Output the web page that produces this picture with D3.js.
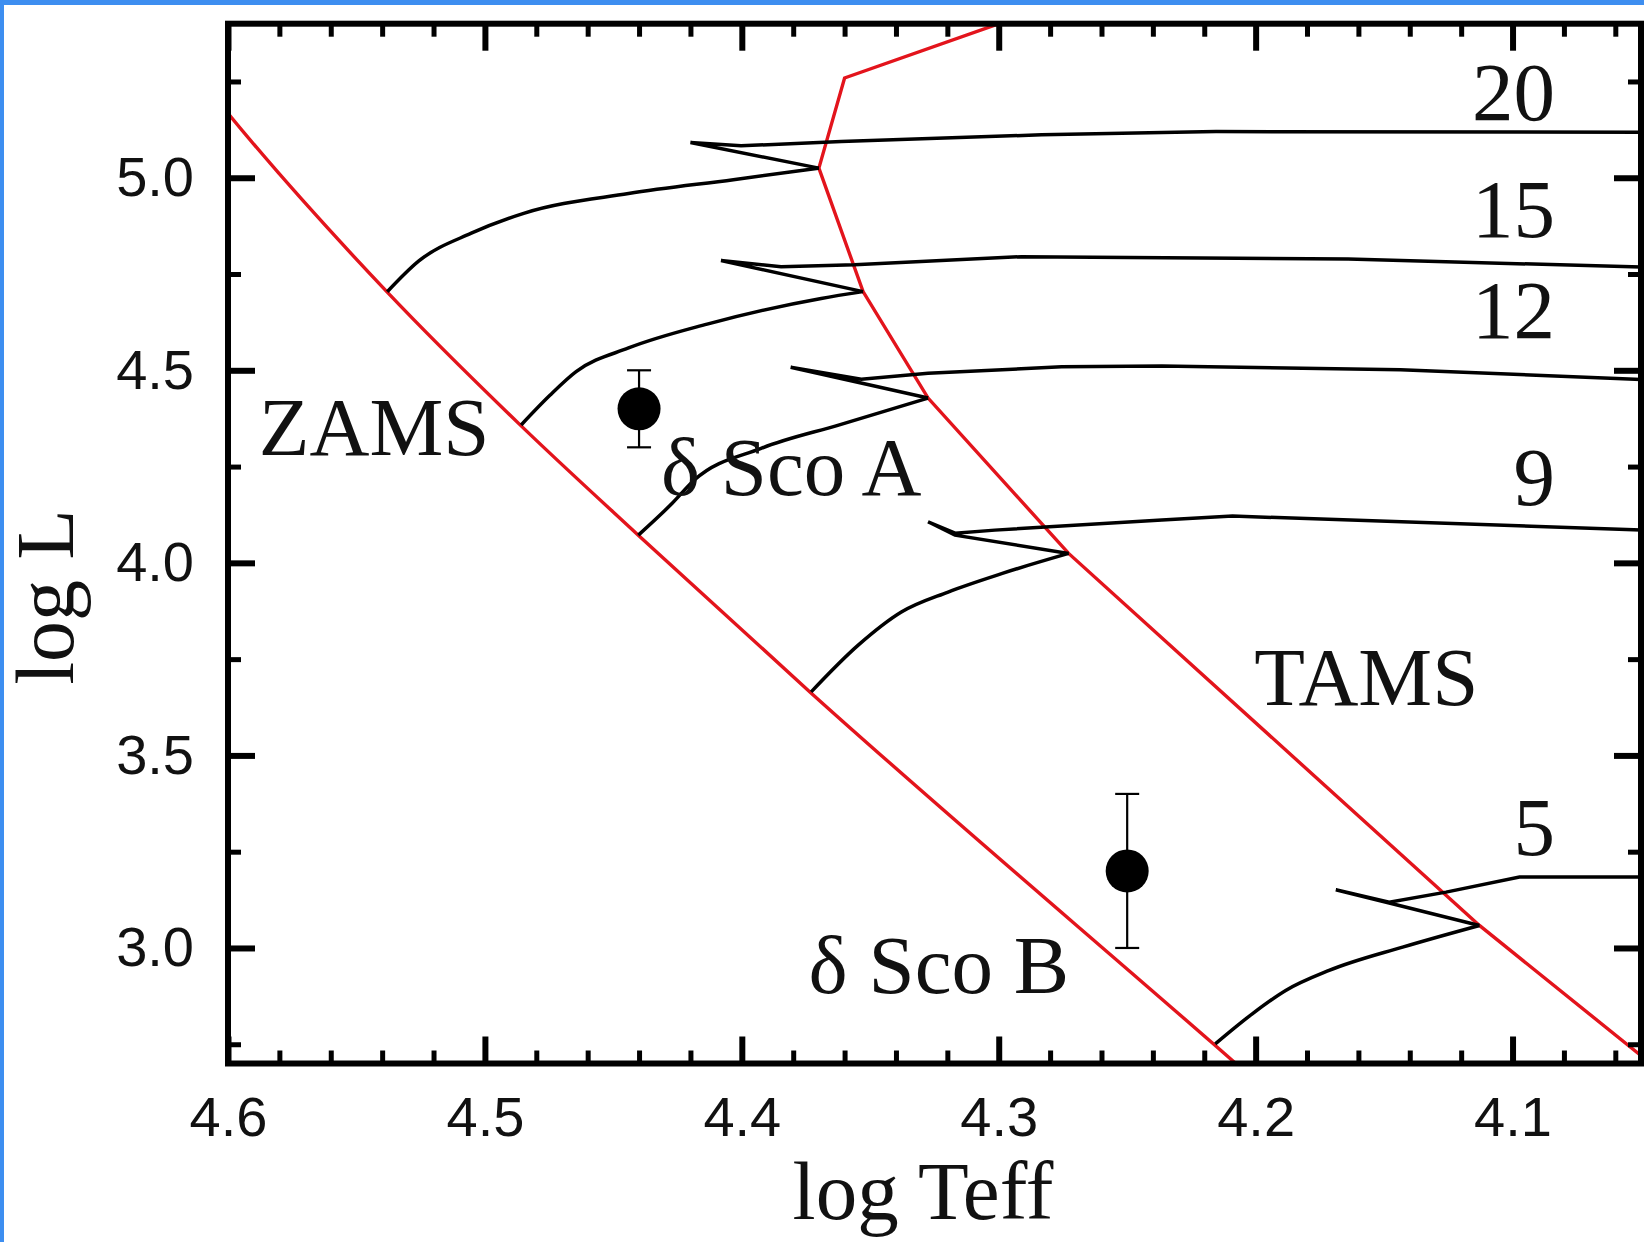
<!DOCTYPE html>
<html>
<head>
<meta charset="utf-8">
<title>delta Sco HR diagram</title>
<script src="https://cdn.jsdelivr.net/npm/d3@7"></script>
<style>
  body { margin:0; background:#fff; overflow:hidden; }
  .tick text { font-family: "Liberation Sans", Arial, sans-serif; font-size:56px; fill:#111; }
  .lbl { font-family: "Liberation Serif", "Times New Roman", serif; font-size:83px; fill:#111; }
</style>
</head>
<body>
<script>
// ZAMS and TAMS (red lines)
var zamsX = [4.61, 4.6005, 4.5381, 4.4862, 4.4403, 4.3735, 4.2166, 4.20]
var zamsY = [5.25, 5.1714, 4.7036, 4.3577, 4.0719, 3.6649, 2.7517, 2.655]
var tamsX = [4.285, 4.36, 4.370, 4.3528, 4.3275, 4.2728, 4.1129, 4.03]
var tamsY = [5.435, 5.259, 5.025, 4.7043, 4.428, 4.0245, 3.0585, 2.613]

// evolutionary tracks: ms = ZAMS -> turnoff, post = turnoff -> hook -> right
var masses = ["20", "15", "12", "9", "5"]
var msX = [
  [4.538, 4.5257, 4.5053, 4.4849, 4.4441, 4.4033, 4.370],
  [4.4859, 4.4747, 4.4645, 4.4441, 4.4135, 4.3691, 4.3528],
  [4.4403, 4.4272, 4.4185, 4.3925, 4.3617, 4.3275],
  [4.373, 4.3548, 4.3379, 4.3197, 4.2989, 4.2728],
  [4.2157, 4.2013, 4.1883, 4.1714, 4.1428, 4.1129]
]
var msY = [
  [4.704, 4.784, 4.856, 4.9075, 4.959, 4.995, 5.025],
  [4.358, 4.435, 4.4965, 4.558, 4.62, 4.6866, 4.7043],
  [4.072, 4.154, 4.215, 4.2973, 4.359, 4.428],
  [3.665, 3.7856, 3.8723, 3.9243, 3.972, 4.0245],
  [2.751, 2.829, 2.8896, 2.9416, 3.0022, 3.0585]
]
var postX = [
  [4.370, 4.420, 4.4003, 4.3613, 4.2833, 4.2154, 4.05],
  [4.3528, 4.4081, 4.3847, 4.3561, 4.2912, 4.164, 4.05],
  [4.3275, 4.381, 4.3535, 4.3275, 4.2755, 4.2365, 4.1436, 4.05],
  [4.2728, 4.317, 4.3275, 4.317, 4.3015, 4.2365, 4.209, 4.05],
  [4.1129, 4.148, 4.1688, 4.148, 4.1259, 4.0973, 4.05]
]
var postY = [
  [5.025, 5.0915, 5.083, 5.094, 5.1115, 5.12, 5.118],
  [4.7043, 4.785, 4.769, 4.774, 4.795, 4.789, 4.768],
  [4.428, 4.508, 4.4766, 4.4922, 4.509, 4.511, 4.5016, 4.476],
  [4.0245, 4.072, 4.1067, 4.077, 4.085, 4.111, 4.1214, 4.0856],
  [3.0585, 3.1166, 3.1513, 3.119, 3.145, 3.184, 3.184]
]
// mass label anchors (right aligned)
var massLabelX = 4.0835
var massLabelY = [5.149, 4.8455, 4.5836, 4.15, 3.241]

// delta Sco A and B
var starX = [4.44, 4.25]
var starY = [4.40, 3.20]
var starErr = [0.10, 0.20]

// other annotations
var noteText = ["ZAMS", "TAMS", "\u03b4 Sco A", "\u03b4 Sco B"]
var noteX = [4.588, 4.2005, 4.4315, 4.374]
var noteY = [4.28, 3.6304, 4.176, 2.8823]

var xMajor = [4.6, 4.5, 4.4, 4.3, 4.2, 4.1]
var yMajor = [3.0, 3.5, 4.0, 4.5, 5.0]
var yMinor = [2.75, 3.25, 3.75, 4.25, 4.75, 5.25]

var W = 1644, H = 1242
var svg = d3.select("body").append("svg").attr("width", W).attr("height", H)
svg.append("rect").attr("width", W).attr("height", H).attr("fill", "#fff")
// blue frame of the screenshot
svg.append("rect").attr("x", 0).attr("y", 0).attr("width", W).attr("height", 5).attr("fill", "#3d8ef0")
svg.append("rect").attr("x", 0).attr("y", 0).attr("width", 4).attr("height", H).attr("fill", "#3d8ef0")

var pL = 228, pR = 1641, pT = 23.7, pB = 1063.5
var x = d3.scaleLinear().domain([4.6, 4.05]).range([pL, pR])
var y = d3.scaleLinear().domain([2.7, 5.4]).range([pB, pT])

var xMinor = d3.range(203, 230).filter(function(i){ return i % 5 != 0 }).map(function(i){ return i / 50 })

// clip for curves
svg.append("clipPath").attr("id", "plotclip").append("rect")
  .attr("x", pL).attr("y", pT).attr("width", pR - pL).attr("height", pB - pT)
var plot = svg.append("g").attr("clip-path", "url(#plotclip)")

// red ZAMS / TAMS
var straight = d3.line().x(function(d){ return x(d[0]) }).y(function(d){ return y(d[1]) })
var smooth = d3.line().x(function(d){ return x(d[0]) }).y(function(d){ return y(d[1]) }).curve(d3.curveMonotoneX)
plot.append("path").datum(d3.zip(zamsX, zamsY)).attr("d", smooth)
  .attr("fill", "none").attr("stroke", "#e3141c").attr("stroke-width", 3.4)
plot.append("path").datum(d3.zip(tamsX, tamsY)).attr("d", straight)
  .attr("fill", "none").attr("stroke", "#e3141c").attr("stroke-width", 3.4)

// tracks
masses.forEach(function(m, i){
  plot.append("path").datum(d3.zip(msX[i], msY[i])).attr("d", smooth)
    .attr("fill", "none").attr("stroke", "#000").attr("stroke-width", 3.5).attr("stroke-linejoin", "round")
  plot.append("path").datum(d3.zip(postX[i], postY[i])).attr("d", straight)
    .attr("fill", "none").attr("stroke", "#000").attr("stroke-width", 3.5).attr("stroke-linejoin", "miter")
  svg.append("text").attr("class", "lbl").attr("text-anchor", "end")
    .attr("x", x(massLabelX)).attr("y", y(massLabelY[i])).text(m)
})

// stars with error bars
starX.forEach(function(sx, i){
  var g = svg.append("g")
  g.append("line").attr("x1", x(sx)).attr("x2", x(sx))
    .attr("y1", y(starY[i] - starErr[i])).attr("y2", y(starY[i] + starErr[i]))
    .attr("stroke", "#000").attr("stroke-width", 2.2)
  ;[starY[i] - starErr[i], starY[i] + starErr[i]].forEach(function(v){
    g.append("line").attr("x1", x(sx) - 12).attr("x2", x(sx) + 12)
      .attr("y1", y(v)).attr("y2", y(v)).attr("stroke", "#000").attr("stroke-width", 2.2)
  })
  g.append("circle").attr("cx", x(sx)).attr("cy", y(starY[i])).attr("r", 21.5).attr("fill", "#000")
})

noteText.forEach(function(t, i){
  svg.append("text").attr("class", "lbl").attr("x", x(noteX[i])).attr("y", y(noteY[i])).text(t)
})

// axes: inward ticks on all four sides
function styleTicks(g, w){
  g.select(".domain").remove()
  g.selectAll(".tick line").attr("stroke", "#000").attr("stroke-width", w)
}
svg.append("g").attr("transform", "translate(0," + pB + ")")
  .call(d3.axisBottom(x).tickValues(xMinor).tickSize(-13).tickFormat(""))
  .call(styleTicks, 5)
svg.append("g").attr("transform", "translate(0," + pB + ")")
  .call(d3.axisBottom(x).tickValues(xMajor).tickSize(-27).tickPadding(33).tickFormat(d3.format(".1f")))
  .call(styleTicks, 6)
svg.append("g").attr("transform", "translate(0," + pT + ")")
  .call(d3.axisTop(x).tickValues(xMinor).tickSize(-13).tickFormat(""))
  .call(styleTicks, 5)
svg.append("g").attr("transform", "translate(0," + pT + ")")
  .call(d3.axisTop(x).tickValues(xMajor).tickSize(-27).tickFormat(""))
  .call(styleTicks, 6)
svg.append("g").attr("transform", "translate(" + pL + ",0)")
  .call(d3.axisLeft(y).tickValues(yMinor).tickSize(-13).tickFormat(""))
  .call(styleTicks, 5)
svg.append("g").attr("transform", "translate(" + pL + ",0)")
  .call(d3.axisLeft(y).tickValues(yMajor).tickSize(-27).tickPadding(34).tickFormat(d3.format(".1f")))
  .call(styleTicks, 6)
svg.append("g").attr("transform", "translate(" + pR + ",0)")
  .call(d3.axisRight(y).tickValues(yMinor).tickSize(-13).tickFormat(""))
  .call(styleTicks, 5)
svg.append("g").attr("transform", "translate(" + pR + ",0)")
  .call(d3.axisRight(y).tickValues(yMajor).tickSize(-27).tickFormat(""))
  .call(styleTicks, 6)
svg.selectAll(".tick text").attr("font-family", null).attr("font-size", null)

// frame
svg.append("rect").attr("x", pL).attr("y", pT).attr("width", pR - pL).attr("height", pB - pT)
  .attr("fill", "none").attr("stroke", "#000").attr("stroke-width", 6)

// axis titles
svg.append("text").attr("class", "lbl").attr("text-anchor", "middle").style("font-size", "83px")
  .attr("x", 923).attr("y", 1219).text("log Teff")
svg.append("text").attr("class", "lbl").attr("text-anchor", "middle").style("font-size", "82px")
  .attr("transform", "translate(73,597) rotate(-90)").text("log L")
</script>
</body>
</html>
